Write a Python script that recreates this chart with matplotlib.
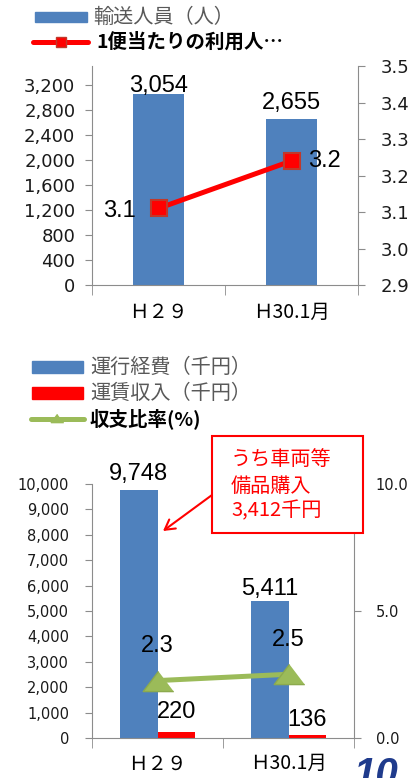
import matplotlib
matplotlib.use('Agg')
import matplotlib.pyplot as plt
from matplotlib.lines import Line2D
from matplotlib.patches import Rectangle, FancyArrowPatch

# ---------------- data ----------------
categories = ['Ｈ２９', 'Ｈ30.1月']

passengers = [3054, 2655]
per_trip = [3.11, 3.24]
per_trip_labels = ['3.1', '3.2']

op_cost = [9748, 5411]
fare_rev = [220, 136]
ratio = [2.26, 2.51]
ratio_labels = ['2.3', '2.5']

top_left_ticks = [0, 400, 800, 1200, 1600, 2000, 2400, 2800, 3200]
top_right_ticks = [2.9, 3.0, 3.1, 3.2, 3.3, 3.4, 3.5]
bot_left_ticks = [0, 1000, 2000, 3000, 4000, 5000, 6000, 7000, 8000, 9000, 10000]
bot_right_ticks = [0.0, 5.0, 10.0]

top_legend = ['輸送人員（人）', '1便当たりの利用人…']
bot_legend = ['運行経費（千円）', '運賃収入（千円）', '収支比率(%)']
note_lines = ['うち車両等', '備品購入', '3,412千円']
page_no = '10'

# ---------------- style ----------------
W, H = 408, 778
BLUE = '#4F81BD'
RED = '#FF0000'
GREEN = '#9BBB59'
GRAY = '#8C8C8C'
CJK = ['Noto Sans CJK JP', 'DejaVu Sans']
NUM = 'DejaVu Sans'
LBL = 'Liberation Sans'

fig = plt.figure(figsize=(W / 100, H / 100), dpi=100)
fig.patch.set_facecolor('white')


def fx(x):
    return x / W


def fy(y):
    return 1 - y / H


def axes_px(x0, y0, x1, y1):
    return fig.add_axes([fx(x0), fy(y1), fx(x1) - fx(x0), (y1 - y0) / H])


def style_axes(ax, ax2, lpad, rpad, lsize, rsize, xpad):
    for s in ['top', 'right']:
        ax.spines[s].set_visible(False)
    for s in ['top', 'left', 'bottom']:
        ax2.spines[s].set_visible(False)
    for s in ['left', 'bottom']:
        ax.spines[s].set_color(GRAY)
    ax2.spines['right'].set_color(GRAY)
    ax.tick_params(axis='y', direction='out', length=5, color=GRAY,
                   labelsize=lsize, pad=lpad, labelcolor='#1a1a1a')
    ax2.tick_params(axis='y', direction='out', length=5, color=GRAY,
                    labelsize=rsize, pad=rpad, labelcolor='#1a1a1a')
    for lab in ax.get_yticklabels() + ax2.get_yticklabels():
        lab.set_family(NUM)
    ax.set_xlim(-0.5, 1.5)
    ax.set_xticks([0, 1])
    ax.set_xticklabels(categories, family=CJK, fontsize=14)
    ax.set_xticks([-0.5, 0.5, 1.5], minor=True)
    ax.tick_params(axis='x', which='major', length=0, pad=xpad)
    ax.tick_params(axis='x', which='minor', length=7, color=GRAY, direction='out')


# ================= top chart =================
ax = axes_px(92, 66, 358, 285)
ax2 = ax.twinx()
x = [0, 1]
ax.bar(x, passengers, width=0.39, color=BLUE, zorder=2)
ax.set_ylim(0, 3500)
ax.set_yticks(top_left_ticks)
ax.set_yticklabels([f'{v:,}' for v in top_left_ticks])
ax2.set_ylim(2.9, 3.5)
ax2.set_yticks(top_right_ticks)
ax2.set_yticklabels([f'{v:.1f}' for v in top_right_ticks])
ax2.plot(x, per_trip, color=RED, lw=3.6, marker='s', markersize=12,
         markerfacecolor=RED, markeredgecolor='#C0392B', markeredgewidth=1.5,
         zorder=3)
style_axes(ax, ax2, lpad=7, rpad=11.5, lsize=13, rsize=13, xpad=12)

for xi, v, off in zip(x, passengers, [6, 11.5]):
    ax.annotate(f'{v:,}', xy=(xi, v), xytext=(0, off), textcoords='offset points',
                ha='center', va='center', fontsize=17, family=LBL)
ax2.annotate(per_trip_labels[0], xy=(0, per_trip[0]), xytext=(-16, -2),
             textcoords='offset points', ha='right', va='center', fontsize=17, family=LBL)
ax2.annotate(per_trip_labels[1], xy=(1, per_trip[1]), xytext=(12, 0),
             textcoords='offset points', ha='left', va='center', fontsize=17, family=LBL)

# top legend
fig.add_artist(Rectangle((fx(35), fy(22)), fx(87) - fx(35), (22 - 12) / H,
                         transform=fig.transFigure, color=BLUE))
fig.text(fx(93), fy(17), top_legend[0], family=CJK, fontsize=14.5, color='#595959',
         ha='left', va='center')
fig.add_artist(Line2D([fx(33), fx(88)], [fy(42), fy(42)], transform=fig.transFigure,
                      color=RED, lw=3.6, solid_capstyle='round'))
fig.add_artist(Line2D([fx(61)], [fy(42)], transform=fig.transFigure, marker='s',
                      markersize=7, color=RED, markeredgecolor='#C0392B',
                      markeredgewidth=1))
fig.text(fx(96), fy(42), top_legend[1], family=CJK, fontsize=14, weight='bold',
         color='black', ha='left', va='center')

# ================= bottom chart =================
bx = axes_px(92, 484, 354, 738)
bx2 = bx.twinx()
bw = 0.285
bx.bar([xi - bw / 2 for xi in x], op_cost, width=bw, color=BLUE, zorder=2)
bx.bar([xi + bw / 2 for xi in x], fare_rev, width=bw, color=RED, zorder=2)
bx.set_ylim(0, 10000)
bx.set_yticks(bot_left_ticks)
bx.set_yticklabels([f'{v:,}' for v in bot_left_ticks])
bx2.set_ylim(0, 10)
bx2.set_yticks(bot_right_ticks)
bx2.set_yticklabels([f'{v:.1f}' for v in bot_right_ticks])
tri = [(0, 0.66), (-1, -0.66), (1, -0.66)]
bx2.plot(x, ratio, color=GREEN, lw=3.6, marker=tri, markersize=22,
         markerfacecolor=GREEN, markeredgecolor='#8CAA4E', zorder=3)
style_axes(bx, bx2, lpad=11.5, rpad=10.5, lsize=10.5, rsize=10.5, xpad=11)

for xi, v, off in zip(x, op_cost, [12, 8.6]):
    bx.annotate(f'{v:,}', xy=(xi - bw / 2, v), xytext=(0, off), textcoords='offset points',
                ha='center', va='center', fontsize=17, family=LBL)
for xi, v, off in zip(x, fare_rev, [14.4, 10.4]):
    bx.annotate(f'{v:,}', xy=(xi + bw / 2, v), xytext=(0, off), textcoords='offset points',
                ha='center', va='center', fontsize=17, family=LBL)
for xi, v, lab in zip(x, ratio, ratio_labels):
    bx2.annotate(lab, xy=(xi, v), xytext=(0, 25), textcoords='offset points',
                 ha='center', va='center', fontsize=17, family=LBL)

# bottom legend
for (yc, col) in [(367, BLUE), (393, RED)]:
    fig.add_artist(Rectangle((fx(32), fy(yc + 6)), fx(83) - fx(32), 12 / H,
                             transform=fig.transFigure, color=col))
fig.text(fx(90), fy(367), bot_legend[0], family=CJK, fontsize=14.5, color='#595959',
         ha='left', va='center')
fig.text(fx(90), fy(393), bot_legend[1], family=CJK, fontsize=14.5, color='#595959',
         ha='left', va='center')
fig.add_artist(Line2D([fx(31), fx(84)], [fy(419), fy(419)], transform=fig.transFigure,
                      color=GREEN, lw=3.6, solid_capstyle='round'))
fig.add_artist(Line2D([fx(57)], [fy(418)], transform=fig.transFigure, marker=tri,
                      markersize=9, color=GREEN))
fig.text(fx(90), fy(419), bot_legend[2], family=CJK, fontsize=14, weight='bold',
         color='black', ha='left', va='center')

# annotation box + arrow
fig.add_artist(Rectangle((fx(212), fy(533)), fx(363) - fx(212), (533 - 436) / H,
                         transform=fig.transFigure, facecolor='white',
                         edgecolor=RED, lw=1.5, zorder=10))
for yy, t in zip([460, 486, 511], note_lines):
    fig.text(fx(231), fy(yy), t, family=CJK, fontsize=14.5, color=RED,
             ha='left', va='center', zorder=11)
fig.add_artist(FancyArrowPatch((fx(212), fy(495)), (fx(163), fy(531)),
                               transform=fig.transFigure, arrowstyle='->,head_length=7,head_width=4',
                               color=RED, lw=1.5, zorder=11, shrinkA=0, shrinkB=0))

# page number
fig.text(fx(353), fy(756), page_no, fontsize=29, weight='bold', style='italic',
         color='#1F3B8C', family='Liberation Sans', ha='left', va='top')

fig.savefig('out.png', dpi=100)
